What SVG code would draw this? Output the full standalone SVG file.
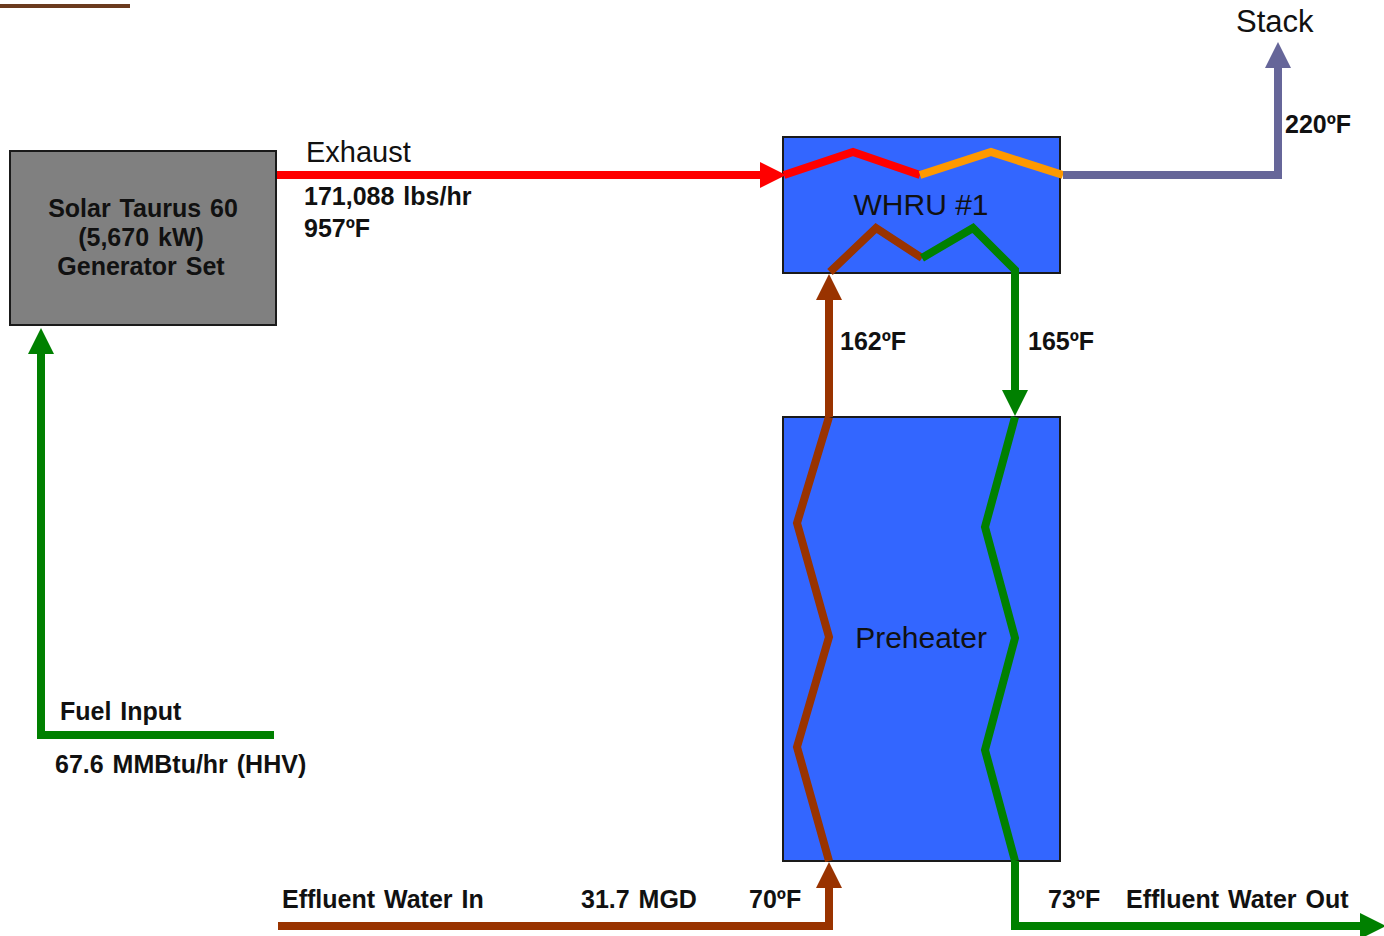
<svg xmlns="http://www.w3.org/2000/svg" width="1384" height="936" viewBox="0 0 1384 936">
<style>
  text { font-family: "Liberation Sans", Arial, sans-serif; fill: #111; }
  .b { font-weight: bold; font-size: 25px; word-spacing: 2px; }
  .r { font-size: 30px; }
  .box { stroke: #1a1a1a; stroke-width: 2; }
  .ln { fill: none; stroke-width: 8; stroke-linejoin: miter; stroke-miterlimit: 4; }
</style>
<defs>
  <marker id="aRed" viewBox="0 0 26 26" markerWidth="26" markerHeight="26" refX="2" refY="13" orient="auto" markerUnits="userSpaceOnUse"><path d="M0,0 L26,13 L0,26 z" fill="#ff0000"/></marker>
  <marker id="aPur" viewBox="0 0 26 26" markerWidth="26" markerHeight="26" refX="2" refY="13" orient="auto" markerUnits="userSpaceOnUse"><path d="M0,0 L26,13 L0,26 z" fill="#666699"/></marker>
  <marker id="aBrn" viewBox="0 0 26 26" markerWidth="26" markerHeight="26" refX="2" refY="13" orient="auto" markerUnits="userSpaceOnUse"><path d="M0,0 L26,13 L0,26 z" fill="#993300"/></marker>
  <marker id="aGrn" viewBox="0 0 26 26" markerWidth="26" markerHeight="26" refX="2" refY="13" orient="auto" markerUnits="userSpaceOnUse"><path d="M0,0 L26,13 L0,26 z" fill="#008000"/></marker>
</defs>
<rect width="1384" height="936" fill="#ffffff"/>

<g id="generator">
  <rect class="box" x="10" y="151" width="266" height="174" fill="#808080"/>
  <text class="b" x="143" y="217" text-anchor="middle">Solar Taurus 60</text>
  <text class="b" x="141" y="246" text-anchor="middle">(5,670 kW)</text>
  <text class="b" x="141" y="275" text-anchor="middle">Generator Set</text>
</g>

<g id="whru">
  <rect class="box" x="783" y="137" width="277" height="136" fill="#3366ff"/>
  <text class="r" x="921" y="215" text-anchor="middle">WHRU #1</text>
</g>

<g id="preheater">
  <rect class="box" x="783" y="417" width="277" height="444" fill="#3366ff"/>
  <text class="r" x="921" y="648" text-anchor="middle">Preheater</text>
</g>

<g id="connectors">
  <line x1="0" y1="6" x2="130" y2="6" stroke="#6b3a1e" stroke-width="4"/>
  <line class="ln" x1="277" y1="175" x2="762" y2="175" stroke="#ff0000" marker-end="url(#aRed)"/>
  <polyline class="ln" points="784,175 853,152 920,175" stroke="#ff0000"/>
  <polyline class="ln" points="920,175 991,152 1063,175" stroke="#ff9900"/>
  <polyline class="ln" points="1063,175 1278,175 1278,66" stroke="#666699" marker-end="url(#aPur)"/>
  <line class="ln" x1="829" y1="417" x2="829" y2="298" stroke="#993300" marker-end="url(#aBrn)"/>
  <polyline class="ln" points="830,272 876,228 922,258" stroke="#993300"/>
  <polyline class="ln" points="922,258 973,228 1015,270 1015,392" stroke="#008000" marker-end="url(#aGrn)"/>
  <polyline class="ln" points="829,417 797,523 829,637 797,747 829,861" stroke="#993300"/>
  <polyline class="ln" points="1015,417 985,527 1015,638 985,750 1015,861" stroke="#008000"/>
  <polyline class="ln" points="278,926 829,926 829,886" stroke="#993300" marker-end="url(#aBrn)"/>
  <polyline class="ln" points="1015,861 1015,926 1362,926" stroke="#008000" marker-end="url(#aGrn)"/>
  <polyline class="ln" points="274,735 41,735 41,352" stroke="#008000" marker-end="url(#aGrn)"/>
</g>

<g id="labels">
  <text x="306" y="162" font-size="29">Exhaust</text>
  <text class="b" x="304" y="205">171,088 lbs/hr</text>
  <text class="b" x="304" y="237">957ºF</text>
  <text x="1236" y="32" font-size="31">Stack</text>
  <text class="b" x="1285" y="133">220ºF</text>
  <text class="b" x="840" y="350">162ºF</text>
  <text class="b" x="1028" y="350">165ºF</text>
  <text class="b" x="60" y="720">Fuel Input</text>
  <text class="b" x="55" y="773">67.6 MMBtu/hr (HHV)</text>
  <text class="b" x="282" y="908">Effluent Water In</text>
  <text class="b" x="581" y="908">31.7 MGD</text>
  <text class="b" x="749" y="908">70ºF</text>
  <text class="b" x="1048" y="908">73ºF</text>
  <text class="b" x="1126" y="908">Effluent Water Out</text>
</g>
</svg>
